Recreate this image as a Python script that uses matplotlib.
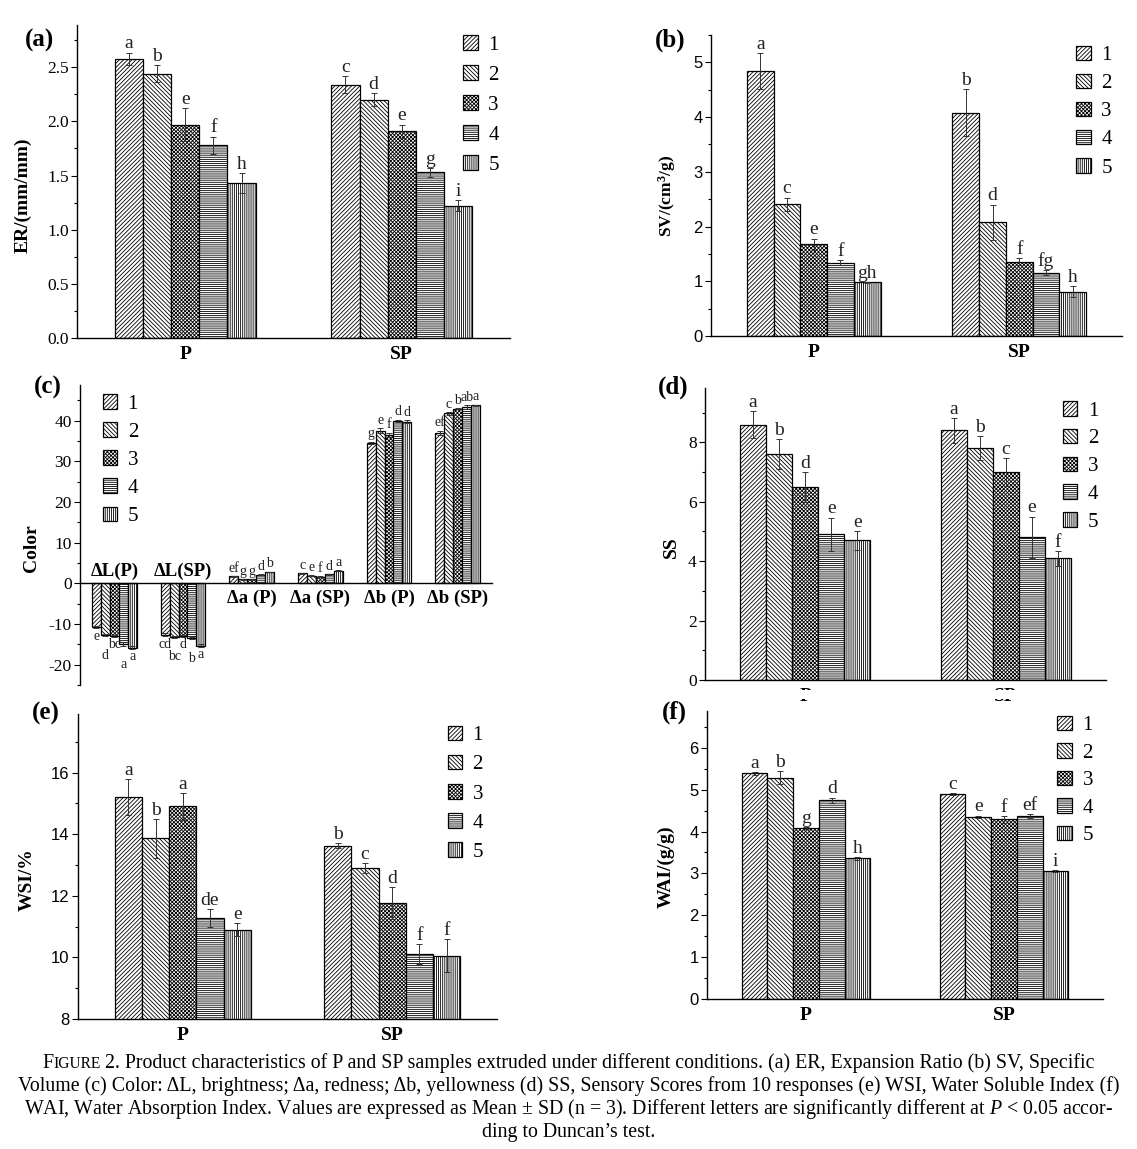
import numpy as np
import matplotlib.pyplot as plt
from matplotlib.patches import Patch, Rectangle
from matplotlib.ticker import MultipleLocator

plt.rcParams['font.family'] = ['Liberation Serif', 'DejaVu Serif']
plt.rcParams['mathtext.fontset'] = 'custom'
plt.rcParams['mathtext.rm'] = 'Liberation Serif'
plt.rcParams['mathtext.it'] = 'Liberation Serif:italic'
plt.rcParams['mathtext.bf'] = 'Liberation Serif:bold'
plt.rcParams['hatch.linewidth'] = 0.6
plt.rcParams['axes.unicode_minus'] = False

# ---- datos ----
tratamientos = ['1', '2', '3', '4', '5']
grupos = ['P', 'SP']
grupos_color = ['ΔL(P)', 'ΔL(SP)', 'Δa (P)', 'Δa (SP)', 'Δb (P)', 'Δb (SP)']

# (a) ER
er_p = [2.58, 2.44, 1.97, 1.78, 1.43]
er_p_sd = [0.055, 0.08, 0.15, 0.08, 0.09]
er_sp = [2.34, 2.20, 1.91, 1.53, 1.22]
er_sp_sd = [0.08, 0.06, 0.06, 0.04, 0.05]
er_p_let = ['a', 'b', 'e', 'f', 'h']
er_sp_let = ['c', 'd', 'e', 'g', 'i']

# (b) SV
sv_p = [4.84, 2.41, 1.68, 1.34, 0.98]
sv_p_sd = [0.33, 0.12, 0.10, 0.05, 0.01]
sv_sp = [4.08, 2.08, 1.36, 1.16, 0.81]
sv_sp_sd = [0.43, 0.32, 0.06, 0.05, 0.10]
sv_p_let = ['a', 'c', 'e', 'f', 'gh']
sv_sp_let = ['b', 'd', 'f', 'fg', 'h']

# (c) Color
dl_p = [-10.8, -12.7, -12.9, -14.9, -15.8]
dl_p_sd = [0.3, 0.3, 0.3, 0.4, 0.3]
dl_sp = [-12.6, -13.2, -12.9, -13.5, -15.3]
dl_sp_sd = [0.4, 0.2, 0.3, 0.3, 0.3]
da_p = [1.7, 1.0, 1.0, 2.1, 2.8]
da_p_sd = [0.1, 0.1, 0.1, 0.1, 0.1]
da_sp = [2.5, 1.9, 1.6, 2.2, 3.1]
da_sp_sd = [0.1, 0.1, 0.1, 0.1, 0.1]
db_p = [34.6, 37.5, 36.5, 40.0, 39.8]
db_p_sd = [0.3, 0.6, 0.6, 0.3, 0.4]
db_sp = [37.0, 41.8, 43.0, 43.4, 43.8]
db_sp_sd = [0.6, 0.4, 0.2, 0.5, 0.2]
dl_p_let = ['e', 'd', 'bc', 'a', 'a']
dl_sp_let = ['cd', 'bc', 'd', 'b', 'a']
da_p_let = ['ef', 'g', 'g', 'd', 'b']
da_sp_let = ['c', 'e', 'f', 'd', 'a']
db_p_let = ['g', 'e', 'f', 'd', 'd']
db_sp_let = ['ef', 'c', 'b', 'ab', 'a']

# (d) SS
ss_p = [8.6, 7.6, 6.5, 4.9, 4.7]
ss_p_sd = [0.46, 0.5, 0.5, 0.57, 0.31]
ss_sp = [8.4, 7.8, 7.0, 4.8, 4.1]
ss_sp_sd = [0.42, 0.4, 0.46, 0.7, 0.25]
ss_p_let = ['a', 'b', 'd', 'e', 'e']
ss_sp_let = ['a', 'b', 'c', 'e', 'f']

# (e) WSI
wsi_p = [15.2, 13.87, 14.9, 11.28, 10.9]
wsi_p_sd = [0.58, 0.63, 0.43, 0.29, 0.21]
wsi_sp = [13.63, 12.9, 11.76, 10.12, 10.06]
wsi_sp_sd = [0.07, 0.16, 0.52, 0.32, 0.53]
wsi_p_let = ['a', 'b', 'a', 'de', 'e']
wsi_sp_let = ['b', 'c', 'd', 'f', 'f']

# (f) WAI
wai_p = [5.39, 5.29, 4.08, 4.75, 3.36]
wai_p_sd = [0.04, 0.16, 0.03, 0.06, 0.04]
wai_sp = [4.9, 4.35, 4.29, 4.37, 3.06]
wai_sp_sd = [0.02, 0.03, 0.08, 0.04, 0.02]
wai_p_let = ['a', 'b', 'g', 'd', 'h']
wai_sp_let = ['c', 'e', 'f', 'ef', 'i']

hatches = ['////////', '\\' * 8, 'xxxxxxxxx', '--------', '||||||||']

W, H = 1137, 1149
fig = plt.figure(figsize=(W / 100, H / 100), dpi=100)


def ejes(left, top, right, bottom):
    return fig.add_axes([left / W, 1 - bottom / H, (right - left) / W, (bottom - top) / H])


def barras(ax, medias, sds, letras, ancho=0.13, fs_let=14):
    x0 = np.arange(len(medias))
    for i in range(5):
        x = x0 + (i - 2) * ancho
        y = [m[i] for m in medias]
        e = [s[i] for s in sds]
        ax.bar(x, y, ancho, hatch=hatches[i], facecolor='white', edgecolor='k', linewidth=0.9, zorder=2)
        ax.errorbar(x, y, yerr=e, fmt='none', ecolor='#333333', elinewidth=0.7, capsize=2.5,
                    capthick=0.7, zorder=3)
        for xi, yi, ei, lt in zip(x, y, e, letras):
            if yi >= 0:
                ax.annotate(lt[i], (xi, yi + ei), xytext=(0, 3), textcoords='offset points',
                            ha='center', va='baseline', fontsize=fs_let, color='#222222')
            else:
                # las letras bajo las barras negativas van escalonadas
                ax.annotate(lt[i], (xi, yi - ei), xytext=(0, -1 - 8 * (i % 2)), textcoords='offset points',
                            ha='center', va='top', fontsize=fs_let, color='#222222')


def leyenda(ax, x, y, ls):
    handles = [Patch(facecolor='white', edgecolor='k', hatch=h, linewidth=0.9) for h in hatches]
    ax.legend(handles, tratamientos, loc='upper left', bbox_to_anchor=(x, y), frameon=False,
              fontsize=15, handlelength=0.7, handleheight=0.7, handletextpad=0.5,
              labelspacing=ls, borderpad=0, borderaxespad=0)


def estilo(ax, ylim, mayor, menor, ylabel, lab_xy, sans=False, fs_lab=14):
    ax.set_ylim(*ylim)
    ax.yaxis.set_major_locator(MultipleLocator(mayor))
    ax.yaxis.set_minor_locator(MultipleLocator(menor))
    for s in ['top', 'right']:
        ax.spines[s].set_visible(False)
    ax.spines['left'].set_linewidth(1.0)
    ax.spines['bottom'].set_linewidth(1.0)
    ax.tick_params(axis='y', which='major', direction='out', length=4, width=0.8, labelsize=12.5, pad=2)
    ax.tick_params(axis='y', which='minor', direction='out', length=2.5, width=0.8)
    ax.tick_params(axis='x', length=0, pad=6, labelsize=14)
    if sans:
        ax.tick_params(axis='y', labelfontfamily='Liberation Sans', labelsize=12)
    for t in ax.get_xticklabels():
        t.set_fontweight('bold')
    ax.set_ylabel(ylabel, fontsize=fs_lab, fontweight='bold')
    ax.yaxis.set_label_coords(*lab_xy)


def panel_pk(ax, p, sp, p_sd, sp_sd, p_let, sp_let):
    barras(ax, [p, sp], [p_sd, sp_sd], [p_let, sp_let])
    ax.set_xlim(-0.5, 1.5)
    ax.set_xticks(range(len(grupos)))
    ax.set_xticklabels(grupos)


# (a)
ax_a = ejes(77, 25, 510, 338)
panel_pk(ax_a, er_p, er_sp, er_p_sd, er_sp_sd, er_p_let, er_sp_let)
estilo(ax_a, (0, 2.89), 0.5, 0.25, 'ER/(mm/mm)', (-0.104, 0.457))
leyenda(ax_a, 0.892, 0.968, 0.5)

# (b)
ax_b = ejes(711, 35, 1122, 336)
panel_pk(ax_b, sv_p, sv_sp, sv_p_sd, sv_sp_sd, sv_p_let, sv_sp_let)
estilo(ax_b, (0, 5.5), 1, 0.5, 'SV/(cm$^\\mathbf{3}$/g)', (-0.080, 0.465), sans=True, fs_lab=12.5)
leyenda(ax_b, 0.889, 0.965, 0.41)

# (c)
ax_c = ejes(80, 385, 492, 685)
barras(ax_c, [dl_p, dl_sp, da_p, da_sp, db_p, db_sp],
       [dl_p_sd, dl_sp_sd, da_p_sd, da_sp_sd, db_p_sd, db_sp_sd],
       [dl_p_let, dl_sp_let, da_p_let, da_sp_let, db_p_let, db_sp_let], fs_let=10)
ax_c.set_xlim(-0.5, 5.5)
ax_c.set_xticks([])
estilo(ax_c, (-25, 48.8), 10, 5, 'Color', (-0.096, 0.457))
ax_c.spines['bottom'].set_position(('data', 0))
for i, g in enumerate(grupos_color):
    if i < 2:
        ax_c.text(i, 0.8, g, ha='center', va='bottom', fontsize=13.5, fontweight='bold')
    else:
        ax_c.text(i, -1.5, g, ha='center', va='top', fontsize=13.5, fontweight='bold')
leyenda(ax_c, 0.055, 0.97, 0.41)

# (d)
ax_d = ejes(705, 388, 1106, 680)
panel_pk(ax_d, ss_p, ss_sp, ss_p_sd, ss_sp_sd, ss_p_let, ss_sp_let)
estilo(ax_d, (0, 9.83), 2, 1, 'SS', (-0.063, 0.455))
leyenda(ax_d, 0.892, 0.955, 0.39)

# (e)
ax_e = ejes(78, 714, 497, 1019)
panel_pk(ax_e, wsi_p, wsi_sp, wsi_p_sd, wsi_sp_sd, wsi_p_let, wsi_sp_let)
estilo(ax_e, (8, 17.9), 2, 1, 'WSI/%', (-0.101, 0.456), sans=True)
leyenda(ax_e, 0.882, 0.962, 0.46)

# (f)
ax_f = ejes(707, 711, 1103, 999)
panel_pk(ax_f, wai_p, wai_sp, wai_p_sd, wai_sp_sd, wai_p_let, wai_sp_let)
estilo(ax_f, (0, 6.88), 1, 0.5, 'WAI/(g/g)', (-0.081, 0.458), sans=True)
leyenda(ax_f, 0.885, 0.984, 0.38)

# letras de panel
for lab, x, y in [('(a)', 25, 40), ('(b)', 655, 40), ('(c)', 34, 387),
                  ('(d)', 658, 387), ('(e)', 32, 713), ('(f)', 662, 712)]:
    fig.text(x / W, 1 - y / H, lab, fontsize=18, fontweight='bold', ha='left', va='center')

# el recorte de las etiquetas de (d)
fig.patches.append(Rectangle((600 / W, 1 - 699 / H), 537 / W, 9 / H, transform=fig.transFigure,
                             facecolor='white', edgecolor='none', zorder=10))

# pie de figura
fs = 14.35
r = fig.canvas.get_renderer()
y1 = 1 - 1068 / H
t1 = fig.text(0, y1, 'F', fontsize=fs, va='baseline')
t2 = fig.text(0, y1, 'IGURE', fontsize=fs * 0.78, va='baseline')
t3 = fig.text(0, y1, ' 2. Product characteristics of P and SP samples extruded under different '
              'conditions. (a) ER, Expansion Ratio (b) SV, Specific', fontsize=fs, va='baseline')
anchos = [t.get_window_extent(r).width for t in (t1, t2, t3)]
x = (W - sum(anchos)) / 2
for t, a in zip((t1, t2, t3), anchos):
    t.set_x(x / W)
    x += a
lineas = ['Volume (c) Color: ΔL, brightness; Δa, redness; Δb, yellowness (d) SS, Sensory Scores '
          'from 10 responses (e) WSI, Water Soluble Index (f)',
          'WAI, Water Absorption Index. Values are expressed as Mean ± SD (n = 3). Different letters '
          'are significantly different at $P$ < 0.05 accor-',
          'ding to Duncan’s test.']
for k, l in enumerate(lineas):
    fig.text(0.5, 1 - (1091 + 23 * k) / H, l, fontsize=fs, ha='center', va='baseline')

fig.savefig('out.png', dpi=100)
